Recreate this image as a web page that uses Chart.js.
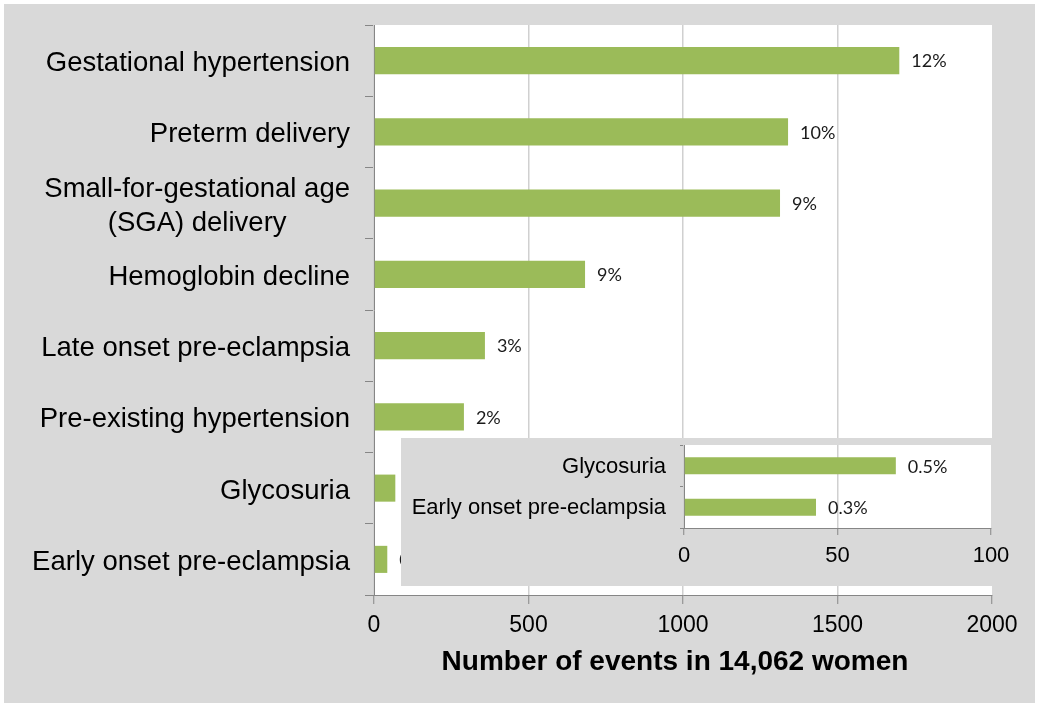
<!DOCTYPE html>
<html>
<head>
<meta charset="utf-8">
<script src="https://cdn.jsdelivr.net/npm/chart.js@4.4.1/dist/chart.umd.min.js"></script>
<style>
  body { margin: 0; background: #fff; }
  #frame { position: absolute; left: 4px; top: 4px; width: 1031px; height: 699px; background: #d9d9d9; }
  #main { position: absolute; left: 0; top: 0; }
  #inset { position: absolute; left: 401px; top: 438px; width: 634px; height: 148px; background: #d9d9d9; }
  #inset canvas { position: absolute; left: 0; top: 0; }
</style>
</head>
<body>
<div id="frame"></div>
<canvas id="main" width="1040" height="707"></canvas>
<div id="inset"><canvas id="insetChart" width="634" height="148"></canvas></div>
<script>
const categories = [
  ["Gestational hypertension"],
  ["Preterm delivery"],
  ["Small-for-gestational age", "(SGA) delivery"],
  ["Hemoglobin decline"],
  ["Late onset pre-eclampsia"],
  ["Pre-existing hypertension"],
  ["Glycosuria"],
  ["Early onset pre-eclampsia"],
];
const events = [1700, 1340, 1314, 683, 359, 291, 69, 43];
const pctLabels = ["12%", "10%", "9%", "9%", "3%", "2%", "0.5%", "0.3%"];
const xTitle = "Number of events in 14,062 women";

const insetCategories = [["Glycosuria"], ["Early onset pre-eclampsia"]];
const insetEvents = [69, 43];
const insetPctLabels = ["0.5%", "0.3%"];

const FONT = "'Liberation Sans', Arial, sans-serif";
const GREEN = "#9bbb59";
const AXIS = "#868686";
const GRID = "#d0d0d0";

// white plot area
const plotBg = {
  id: "plotBg",
  beforeDraw(chart) {
    const a = chart.chartArea;
    const ctx = chart.ctx;
    ctx.save();
    ctx.fillStyle = "#fff";
    ctx.fillRect(a.left, a.top, a.right - a.left, a.bottom - a.top);
    ctx.restore();
  },
};

// percentage labels to the right of each bar
const barLabels = {
  id: "barLabels",
  afterDatasetsDraw(chart, args, opts) {
    const ctx = chart.ctx;
    ctx.save();
    ctx.font = opts.font;
    ctx.fillStyle = "#1a1a1a";
    ctx.textAlign = "left";
    ctx.textBaseline = "middle";
    chart.getDatasetMeta(0).data.forEach((bar, i) => {
      ctx.fillText(opts.labels[i], bar.x + 12, bar.y + 1);
    });
    ctx.restore();
  },
};

// category labels: block right aligned to the axis, lines centred in the block
const catLabels = {
  id: "catLabels",
  afterDraw(chart, args, opts) {
    const ctx = chart.ctx;
    const y = chart.scales.y;
    ctx.save();
    ctx.font = opts.font;
    ctx.fillStyle = "#000";
    ctx.textAlign = "center";
    ctx.textBaseline = "middle";
    chart.data.labels.forEach((lines, i) => {
      const cy = y.getPixelForValue(i) + opts.shift;
      const w = Math.max(...lines.map((l) => ctx.measureText(l).width));
      const cx = chart.chartArea.left - opts.gap - w / 2;
      lines.forEach((l, j) => {
        ctx.fillText(l, cx, cy + (j - (lines.length - 1) / 2) * opts.lineHeight);
      });
    });
    // axis title, sits a little left of the plot centre
    if (opts.title) {
      ctx.font = "bold 28px " + FONT;
      const a = chart.chartArea;
      ctx.fillText(opts.title, (a.left + a.right) / 2 - 8, a.bottom + 67);
    }
    ctx.restore();
  },
};

new Chart(document.getElementById("main"), {
  type: "bar",
  data: {
    labels: categories,
    datasets: [
      {
        data: events,
        backgroundColor: GREEN,
        barPercentage: 0.38,
        categoryPercentage: 1,
      },
    ],
  },
  plugins: [plotBg, barLabels, catLabels],
  options: {
    indexAxis: "y",
    responsive: false,
    animation: false,
    devicePixelRatio: 1,
    layout: { padding: { top: 25, right: 48, bottom: 0, left: 0 } },
    plugins: {
      legend: { display: false },
      tooltip: { enabled: false },
      barLabels: { labels: pctLabels, font: "18px Lato, sans-serif" },
      catLabels: { font: "27.5px " + FONT, gap: 24, lineHeight: 34, shift: 3, title: xTitle },
    },
    scales: {
      y: {
        afterFit: (s) => { s.width = 374; },
        ticks: { display: false },
        grid: { drawOnChartArea: false, tickLength: 9, color: AXIS },
        border: { color: AXIS },
      },
      x: {
        min: 0,
        max: 2000,
        afterFit: (s) => { s.height = 112; },
        ticks: {
          stepSize: 500,
          color: "#000",
          font: { family: FONT, size: 23 },
          padding: 8,
          maxRotation: 0,
          callback: (v) => String(v),
        },
        grid: {
          color: (c) => (c.tick && c.tick.value === 2000 ? "rgba(0,0,0,0)" : GRID),
          lineWidth: 1.5,
          tickLength: 9,
          tickColor: AXIS,
          tickWidth: 1,
        },
        border: { color: AXIS },
      },
    },
  },
});

new Chart(document.getElementById("insetChart"), {
  type: "bar",
  data: {
    labels: insetCategories,
    datasets: [
      {
        data: insetEvents,
        backgroundColor: GREEN,
        barPercentage: 0.41,
        categoryPercentage: 1,
      },
    ],
  },
  plugins: [plotBg, barLabels, catLabels],
  options: {
    indexAxis: "y",
    responsive: false,
    animation: false,
    devicePixelRatio: 1,
    layout: { padding: { top: 7, right: 44, bottom: 0, left: 0 } },
    plugins: {
      legend: { display: false },
      tooltip: { enabled: false },
      barLabels: { labels: insetPctLabels, font: "18px Lato, sans-serif" },
      catLabels: { font: "22px " + FONT, gap: 18, lineHeight: 26, shift: 1 },
    },
    scales: {
      y: {
        afterFit: (s) => { s.width = 283; },
        ticks: { display: false },
        grid: { drawOnChartArea: false, tickLength: 4, color: AXIS },
        border: { color: AXIS },
      },
      x: {
        min: 0,
        max: 100,
        afterFit: (s) => { s.height = 58; },
        ticks: { stepSize: 50, color: "#000", font: { family: FONT, size: 22 }, padding: 8, maxRotation: 0 },
        grid: {
          color: (c) => (c.tick && c.tick.value === 100 ? "rgba(0,0,0,0)" : GRID),
          lineWidth: 1.5,
          tickLength: 7,
          tickColor: AXIS,
          tickWidth: 1,
        },
        border: { color: AXIS },
      },
    },
  },
});
</script>
</body>
</html>
